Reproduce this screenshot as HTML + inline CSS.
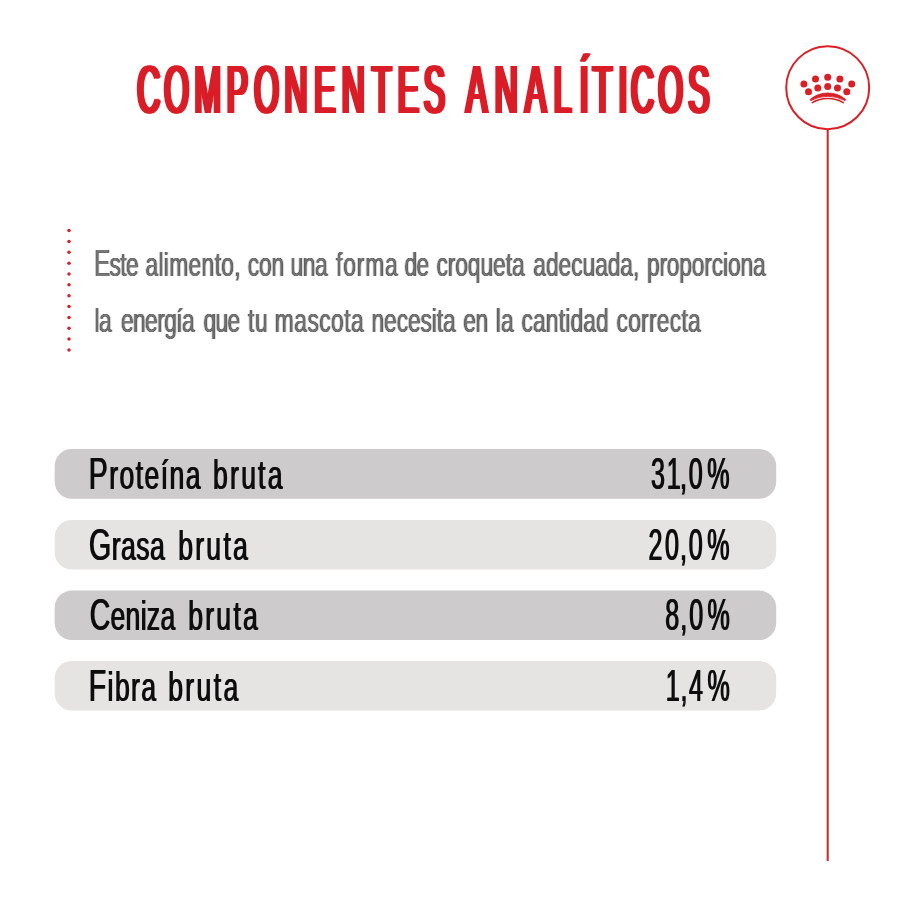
<!DOCTYPE html>
<html lang="es">
<head>
<meta charset="utf-8">
<title>Componentes analíticos</title>
<style>
html,body{margin:0;padding:0;background:#fff;width:900px;height:900px;overflow:hidden}
svg{display:block}
text{font-family:"Liberation Sans",Arial,sans-serif}
</style>
</head>
<body>
<svg width="900" height="900" viewBox="0 0 900 900">
<defs>
<filter id="o3" filterUnits="userSpaceOnUse" x="0" y="0" width="900" height="900">
<feOffset in="SourceGraphic" dx="1" result="a"/><feOffset in="SourceGraphic" dx="2" result="b"/><feOffset in="SourceGraphic" dx="3" result="c"/>
<feMerge><feMergeNode in="SourceGraphic"/><feMergeNode in="a"/><feMergeNode in="b"/><feMergeNode in="c"/></feMerge>
</filter>
<filter id="o1" filterUnits="userSpaceOnUse" x="0" y="0" width="900" height="900">
<feOffset in="SourceGraphic" dx="1" result="a"/>
<feMerge><feMergeNode in="SourceGraphic"/><feMergeNode in="a"/></feMerge>
</filter>
<filter id="o0" filterUnits="userSpaceOnUse" x="0" y="0" width="900" height="900">
<feOffset in="SourceGraphic" dx="0"/>
</filter>
<filter id="o4" filterUnits="userSpaceOnUse" x="0" y="0" width="900" height="900">
<feOffset in="SourceGraphic" dx="1" result="a"/><feOffset in="SourceGraphic" dx="2" result="b"/><feOffset in="SourceGraphic" dx="3" result="c"/><feOffset in="SourceGraphic" dx="4" result="d"/>
<feMerge><feMergeNode in="SourceGraphic"/><feMergeNode in="a"/><feMergeNode in="b"/><feMergeNode in="c"/><feMergeNode in="d"/></feMerge>
</filter>
<filter id="cb" filterUnits="userSpaceOnUse" x="0" y="0" width="900" height="900">
<feConvolveMatrix order="3 1" kernelMatrix="0.35 1 0.35" divisor="1" preserveAlpha="false" edgeMode="none"/>
</filter>
</defs>
<rect width="900" height="900" fill="#ffffff"/>
<!-- title -->
<g filter="url(#o4)"><text transform="scale(0.47,1)" x="287.71 345.32 409.61 478.17 536.92 601.32 664.54 723.13 787.14 841.88 897.58 917.38 987.24 1048.45 1112.56 1173.91 1229.23 1257.03 1311.46 1338.57 1396.17 1460.03" y="113" font-size="67.6" fill="#da1f26">COMPONENTES ANALÍTICOS</text></g>

<!-- crown badge -->
<g fill="none" stroke="#da1f26">
<circle cx="827.7" cy="87.7" r="41.5" stroke-width="2"/>
<line x1="827.7" y1="129" x2="827.7" y2="861" stroke-width="2"/>
</g>
<g fill="#da1f26">
<circle cx="803.9" cy="83.9" r="3.5"/>
<circle cx="815.5" cy="78.9" r="3.5"/>
<circle cx="827.7" cy="77.3" r="3.5"/>
<circle cx="839.9" cy="78.9" r="3.5"/>
<circle cx="851.7" cy="83.9" r="3.5"/>
<circle cx="808.5" cy="91.8" r="3.5"/>
<circle cx="817.8" cy="87.9" r="3.5"/>
<circle cx="827.7" cy="86.5" r="3.5"/>
<circle cx="837.5" cy="87.9" r="3.5"/>
<circle cx="846.8" cy="91.8" r="3.5"/>
<path d="M810.2 99.4 A27.7 27.7 0 0 1 845.6 99.4 L845.1 100.6 A36.5 36.5 0 0 0 810.7 100.6 Z" stroke="#da1f26" stroke-width="0.9" stroke-linejoin="round"/>
</g>
<path d="M812.3 102.6 A31.3 31.3 0 0 1 843.3 102.6" fill="none" stroke="#da1f26" stroke-width="1.6" stroke-linecap="round"/>

<!-- dotted red line -->
<g fill="#da1f26">
<circle cx="69" cy="230.6" r="1.75"/>
<circle cx="69" cy="241.45" r="1.75"/>
<circle cx="69" cy="252.3" r="1.75"/>
<circle cx="69" cy="263.15" r="1.75"/>
<circle cx="69" cy="274" r="1.75"/>
<circle cx="69" cy="284.85" r="1.75"/>
<circle cx="69" cy="295.7" r="1.75"/>
<circle cx="69" cy="306.55" r="1.75"/>
<circle cx="69" cy="317.4" r="1.75"/>
<circle cx="69" cy="328.25" r="1.75"/>
<circle cx="69" cy="339.1" r="1.75"/>
<circle cx="69" cy="349.95" r="1.75"/>
</g>

<!-- body -->
<g filter="url(#cb)"><text transform="scale(0.67,1)" x="140.30 163.60 179.56 187.96 205.83 216.99 236.44 244.53 252.62 281.48 300.92 320.37 330.36 349.80 359.79 369.82 386.54 405.16 423.79 433.54 451.83 470.12 488.41 501.53 512.25 532.42 545.01 574.60 594.77 603.74 621.61 639.47 651.32 668.24 679.48 698.30 717.13 735.96 754.79 764.15 782.98 796.09 814.91 833.73 852.55 869.46 888.27 907.09 925.91 944.73 954.08 965.50 984.17 995.27 1013.95 1032.63 1051.31 1062.40 1079.17 1086.49 1105.17 1123.85" y="276.3" font-size="34" fill="#5e5e5e"><tspan font-size="36.5">E</tspan>ste alimento, con una forma de croqueta adecuada, proporciona</text></g>
<g filter="url(#cb)"><text transform="scale(0.67,1)" x="141.07 147.58 165.44 180.57 198.59 216.60 234.62 245.05 263.06 271.61 289.63 303.77 321.63 339.50 357.36 370.16 380.59 400.48 410.20 439.20 458.79 476.47 494.14 513.73 523.85 543.44 554.53 573.29 592.04 608.88 627.63 644.48 651.88 661.17 679.92 691.62 709.64 727.67 740.02 747.73 766.80 778.33 795.57 814.71 833.86 843.54 851.33 870.48 889.63 908.77 920.12 937.54 956.88 968.62 980.36 999.70 1017.12 1026.99" y="332" font-size="34" fill="#5e5e5e">la energía que tu mascota necesita en la cantidad correcta</text></g>

<!-- rows -->
<rect x="54.7" y="449" width="721.5" height="49.7" rx="17" fill="#cdcbcc"/>
<rect x="54.7" y="520" width="721.5" height="49.5" rx="17" fill="#e5e4e2"/>
<rect x="54.7" y="590.6" width="721.5" height="49.5" rx="17" fill="#cdcbcc"/>
<rect x="54.7" y="661" width="721.5" height="49.5" rx="17" fill="#e5e4e2"/>

<g filter="url(#o1)"><text transform="scale(0.64,1)" x="137.91 169.84 185.90 211.22 225.00 250.32 264.10 289.42 314.74 332.17 358.72 376.00 402.55 417.54" y="489.2" font-size="41.5" fill="#0c0c0c"><tspan font-size="44.5">P</tspan>roteína bruta</text></g>
<g filter="url(#o1)"><text transform="scale(0.64,1)" x="138.23 173.67 188.31 212.22 233.79 257.70 277.64 304.26 321.63 348.25 363.33" y="559.9" font-size="41.5" fill="#0c0c0c"><tspan font-size="44.5">G</tspan>rasa bruta</text></g>
<g filter="url(#o1)"><text transform="scale(0.64,1)" x="139.30 171.90 195.45 218.99 228.67 249.89 273.43 293.26 319.89 337.25 363.88 378.95" y="630.5" font-size="41.5" fill="#0c0c0c"><tspan font-size="44.5">C</tspan>eniza bruta</text></g>
<g filter="url(#o1)"><text transform="scale(0.64,1)" x="137.91 167.30 178.73 204.02 220.04 245.33 262.01 288.83 306.39 333.21 348.48" y="701.1" font-size="41.5" fill="#0c0c0c"><tspan font-size="44.5">F</tspan>ibra bruta</text></g>
<g filter="url(#o1)"><text transform="scale(0.57,1)" x="1141.14 1168.92 1192.05 1207.41 1240.09" y="489.2" font-size="44" fill="#0c0c0c">31,0%</text></g>
<g filter="url(#o1)"><text transform="scale(0.57,1)" x="1136.71 1166.01 1192.05 1207.41 1240.09" y="559.9" font-size="44" fill="#0c0c0c">20,0%</text></g>
<g filter="url(#o1)"><text transform="scale(0.57,1)" x="1166.45 1192.40 1208.55 1240.53" y="630.5" font-size="44" fill="#0c0c0c">8,0%</text></g>
<g filter="url(#o1)"><text transform="scale(0.57,1)" x="1166.99 1193.01 1208.08 1240.53" y="701.1" font-size="44" fill="#0c0c0c">1,4%</text></g>
</svg>
</body>
</html>
